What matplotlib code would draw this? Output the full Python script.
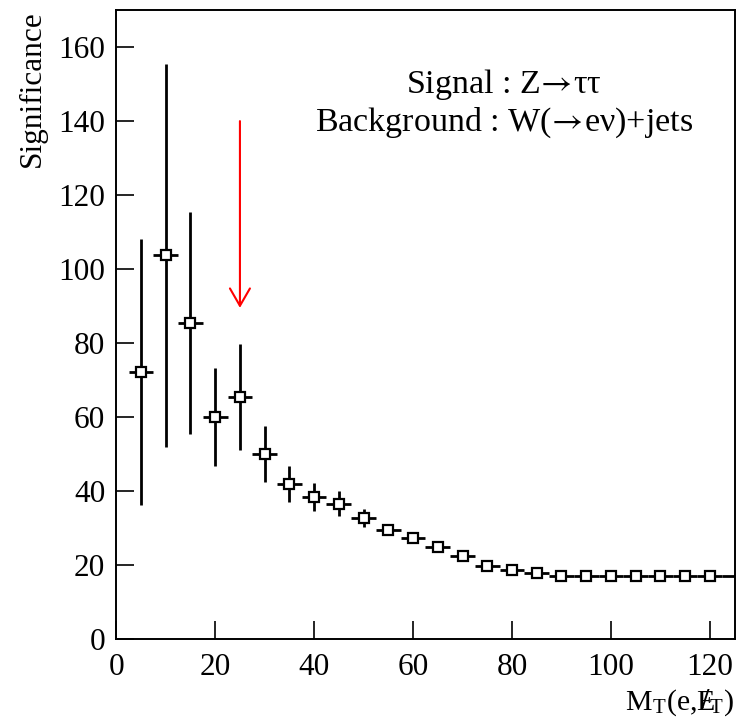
import matplotlib
matplotlib.use("Agg")
import matplotlib.pyplot as plt
import numpy as np

# data
mt = [5, 10, 15, 20, 25, 30, 35, 40, 45, 50, 55, 60, 65, 70, 75, 80, 85, 90,
      95, 100, 105, 110, 115, 120, 125]
signif = [72.2, 103.8, 85.4, 60.0, 65.3, 49.9, 41.8, 38.4, 36.6, 32.8, 29.4, 27.4,
          24.9, 22.5, 19.8, 18.6, 17.8, 17.1, 17.1, 17.1, 17.0, 17.0, 17.0, 17.0, 17.0]
err_up = [36.0, 51.7, 30.0, 13.2, 14.3, 7.6, 4.9, 3.8, 3.3, 2.4, 0.9, 0.6,
          0.5, 0.4, 0.4, 0.3, 0.3, 0.3, 0.2, 0.2, 0.2, 0.2, 0.2, 0.2, 0.2]
err_dn = [36.1, 51.9, 30.1, 13.2, 14.3, 7.6, 4.9, 3.9, 3.4, 2.5, 0.9, 0.6,
          0.5, 0.4, 0.4, 0.3, 0.3, 0.3, 0.2, 0.2, 0.2, 0.2, 0.2, 0.2, 0.2]
bin_half = 2.5
cut_value = 25
arrow_top, arrow_tip = 140, 89.5

plt.rcParams['font.family'] = ['Liberation Serif', 'DejaVu Serif']
plt.rcParams['mathtext.fontset'] = 'stix'

fig = plt.figure(figsize=(7.36, 7.26), dpi=100)
ax = fig.add_axes([0.158, 0.12, 0.840, 0.866])

mt_a = np.array(mt, dtype=float)
sg = np.array(signif)
ax.errorbar(mt_a, sg, yerr=[err_dn, err_up], xerr=bin_half, fmt='none',
            ecolor='black', elinewidth=2.0, capsize=0)
inside = mt_a < 125
ax.plot(mt_a[inside], sg[inside], linestyle='none', marker='s', markersize=6.5,
        markerfacecolor='white', markeredgecolor='black', markeredgewidth=1.6)

# red arrow marking the cut
ax.annotate('', xy=(cut_value, arrow_tip), xytext=(cut_value, arrow_top),
            arrowprops=dict(arrowstyle='->,head_length=1.25,head_width=0.72',
                            mutation_scale=10,
                            color='red', lw=1.5, shrinkA=0, shrinkB=0))

ax.text(78.3, 144.8,
        "Signal : Z$\\!\\rightarrow\\!$\u03c4\u03c4\n"
        "Background : W($\\!\\rightarrow\\!$e\u03bd)+jets",
        ha='center', va='center', multialignment='center', fontsize=24.5,
        linespacing=1.12)

ax.set_xlim(0, 125)
ax.set_ylim(0, 170)
ax.set_xticks([0, 20, 40, 60, 80, 100, 120])
ax.set_yticks([0, 20, 40, 60, 80, 100, 120, 140, 160])
ax.tick_params(direction='in', length=13, width=1.2, labelsize=22.5, pad=8)
ax.tick_params(axis='x', pad=10)
for s in ax.spines.values():
    s.set_linewidth(1.4)

ax.set_ylabel('Significance', loc='top', fontsize=22.5, labelpad=8)
ax.set_xlabel(r'M$_\mathregular{T}$(e,$\mathregular{E}\!\!\!\!/_\mathregular{T}$)',
              loc='right', fontsize=21.5, labelpad=4)

fig.savefig('out.png', dpi=100)
